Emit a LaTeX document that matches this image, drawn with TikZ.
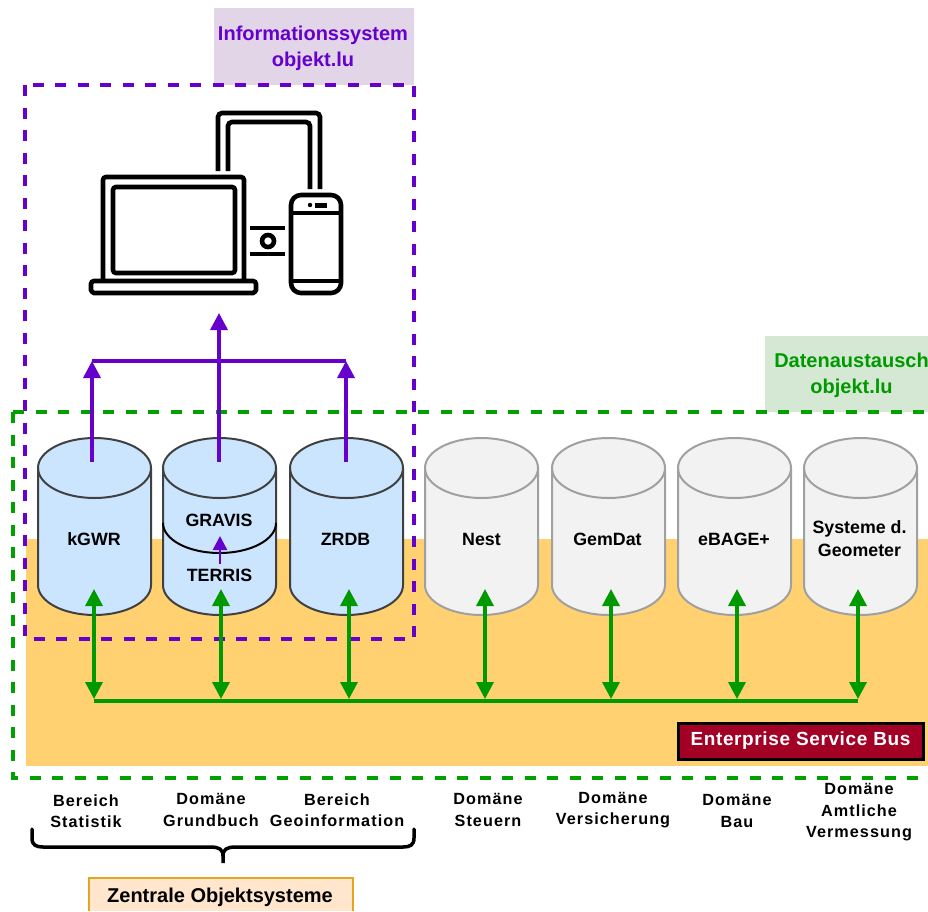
\documentclass[tikz,border=0pt]{standalone}
\usepackage{fontspec}
\setmainfont{Liberation Sans}
\newfontfamily\spaced[LetterSpace=6.5]{Liberation Sans}
\newfontfamily\espaced[LetterSpace=3.3]{Liberation Sans}
\usetikzlibrary{arrows.meta}
\definecolor{violetline}{HTML}{6600CC}
\definecolor{greenline}{HTML}{009900}
\definecolor{greendash}{HTML}{00A000}
\definecolor{cylblue}{HTML}{CCE5FF}
\definecolor{cylgray}{HTML}{F2F2F2}
\definecolor{cylgrayline}{HTML}{A0A0A0}
\definecolor{busorange}{HTML}{FFD170}
\definecolor{headviolet}{HTML}{E1D5E7}
\definecolor{headgreen}{HTML}{D5E8D4}
\definecolor{zentralefill}{HTML}{FFE6CC}
\definecolor{zentraledraw}{HTML}{E6A51E}
\definecolor{esbred}{HTML}{A20025}
\tikzset{
  bluecyl/.style={fill=cylblue,draw=black!75,line width=2pt},
  graycyl/.style={fill=cylgray,draw=cylgrayline,line width=2pt},
  cyltext/.style={font=\bfseries\fontsize{17.8}{23}\selectfont,align=center,text=black},
  domainlabel/.style={font=\spaced\bfseries\fontsize{16.2}{21.5}\selectfont,align=center,text=black},
  headtext/.style={font=\bfseries\fontsize{20}{26}\selectfont,align=center},
  purplebox/.style={draw=violetline,line width=3.5pt,dash pattern=on 11pt off 11.5pt},
  greenbox/.style={draw=greendash,line width=3.5pt,dash pattern=on 11pt off 11.5pt},
  purplearrow/.style={draw=violetline,line width=3.5pt,-{Triangle[length=17pt,width=17pt]}},
  greenarrow/.style={draw=greenline,line width=3.5pt,{Triangle[length=17pt,width=17pt]}-{Triangle[length=17pt,width=17pt]}},
  icon/.style={draw=black,line width=4.6pt,fill=none,rounded corners=3pt},
}
% \cyl{name}{style}{left x}
\newcommand{\cyl}[3]{%
  \path[#2] (#3,468) arc[x radius=56.5,y radius=30,start angle=180,end angle=360]
    -- (#3+113,585) arc[x radius=56.5,y radius=30,start angle=0,end angle=180] -- cycle;
  \path[#2,fill=none] (#3,468) arc[x radius=56.5,y radius=30,start angle=180,end angle=0];
  \coordinate (#1) at (#3+56.5,539);
}
\begin{document}
\begin{tikzpicture}[x=1pt,y=-1pt]
\useasboundingbox (0,0) rectangle (928,911);
\fill[white] (0,0) rectangle (928,911);
% backgrounds
\fill[busorange] (26,539) rectangle (928,766);
\fill[headviolet] (214,8) rectangle (414,85);
\fill[headgreen] (765,336) rectangle (928,412);
\node[headtext,text=violetline] (infolabel) at (313,48) {Informationssystem\\objekt.lu};
\node[headtext,text=greenline] (datalabel) at (851.5,375.5) {Datenaustausch\\objekt.lu};
% cylinders
\cyl{kgwr}{bluecyl}{38}
\cyl{grav}{bluecyl}{163}
\cyl{zrdb}{bluecyl}{290}
\cyl{nest}{graycyl}{425}
\cyl{gemd}{graycyl}{552}
\cyl{ebag}{graycyl}{678}
\cyl{geom}{graycyl}{804}
\draw[black,line width=2pt] (163,523) arc[x radius=56.5,y radius=30,start angle=180,end angle=0];
\node[cyltext] (tkgwr) at (94,539) {kGWR};
\node[cyltext] (tgravis) at (219,520) {GRAVIS};
\node[cyltext] (tterris) at (219.5,575) {TERRIS};
\node[cyltext] (tzrdb) at (345.5,539) {ZRDB};
\node[cyltext] (tnest) at (481.5,539) {Nest};
\node[cyltext] (tgemd) at (607.5,539) {GemDat};
\node[cyltext] (tebag) at (734,539) {eBAGE+};
\node[cyltext] (tgeom) at (859.5,539) {Systeme d.\\Geometer};
% dashed frames
\draw[purplebox] (25,85) rectangle (414,639);
\draw[greenbox] (13,412) -- (940,412) (13,412) -- (13,778) -- (940,778);
% icon
\draw[icon] (103,281) -- (103,177) -- (244,177) -- (244,281);
\draw[icon] (113,187) rectangle (235,273);
\draw[icon] (91,281) -- (256,281) -- (256,287) .. controls (256,291) and (254,293) .. (250,293) -- (97,293) .. controls (93,293) and (91,291) .. (91,287) -- cycle;
\draw[icon,rounded corners=4pt] (218,171) -- (218,113) -- (320,113) -- (320,189);
\draw[icon,rounded corners=4pt] (228,171) -- (228,122) -- (310,122) -- (310,189);
\draw[icon,rounded corners=10pt] (291,195) rectangle (341,293);
\draw[black,line width=3.5pt] (291,213) -- (341,213) (291,281) -- (341,281);
\fill[black] (310,205) circle[radius=2.2];
\fill[black] (315,202.5) rectangle (327,207.5);
\draw[black,line width=4.6pt] (250,228) -- (285,228) (250,254) -- (285,254);
\draw[black,line width=4.6pt] (268,241) circle[radius=6];
% purple connectors
\coordinate (p1) at (92,462); \coordinate (p1t) at (92,361);
\coordinate (p2) at (219,462); \coordinate (p2t) at (219,313);
\coordinate (p3) at (346,462); \coordinate (p3t) at (346,361);
\draw[violetline,line width=3.5pt] (p1t) -- (p3t);
\draw[purplearrow] (p1) -- (p1t);
\draw[purplearrow] (p2) -- (p2t);
\draw[purplearrow] (p3) -- (p3t);
\coordinate (tt) at (220,564); \coordinate (gg) at (220,536);
\draw[draw=violetline,line width=2.5pt,-{Triangle[length=14pt,width=14pt]}] (tt) -- (gg);
% green connectors
\foreach \n/\x in {a/94,b/221,c/349,d/485,e/611,f/737,g/858}{
  \coordinate (top\n) at (\x,589);
  \coordinate (bot\n) at (\x,699);
  \draw[greenarrow] (top\n) -- (bot\n);
}
\draw[greenline,line width=3.5pt] (94,701) -- (858,701);
% ESB
\node[draw=black,line width=3pt,fill=esbred,text=white,
  font=\espaced\bfseries\fontsize{19}{22}\selectfont,minimum width=245pt,minimum height=36pt,inner sep=0] (esb) at (800.5,741) {Enterprise Service Bus};
% domain labels
\node[domainlabel] (d1) at (86,811) {Bereich\\Statistik};
\node[domainlabel] (d2) at (211,810) {Domäne\\Grundbuch};
\node[domainlabel] (d3) at (337,810) {Bereich\\Geoinformation};
\node[domainlabel] (d4) at (488,810) {Domäne\\Steuern};
\node[domainlabel] (d5) at (613,810) {Domäne\\Versicherung};
\node[domainlabel] (d6) at (737,811) {Domäne\\Bau};
\node[domainlabel] (d7) at (859,812.5) {Domäne\\Amtliche\\Vermessung};
% brace
\draw[black,line width=3.5pt,line cap=round] (32,829) -- (32,838) .. controls (32,845) and (36,847) .. (43,847)
  -- (210,847) .. controls (219,847) and (223,849) .. (223,856) -- (223,863) -- (223,856)
  .. controls (223,849) and (227,847) .. (236,847) -- (403,847)
  .. controls (410,847) and (414,845) .. (414,838) -- (414,829);
% Zentrale
\fill[zentralefill] (89,878) rectangle (353,911);
\draw[draw=zentraledraw,line width=1.2pt] (89,911) -- (89,878) -- (353,878) -- (353,911);
\node[font=\bfseries\fontsize{20}{24}\selectfont,text=black] (zo) at (220,897) {Zentrale Objektsysteme};
\end{tikzpicture}
\end{document}
